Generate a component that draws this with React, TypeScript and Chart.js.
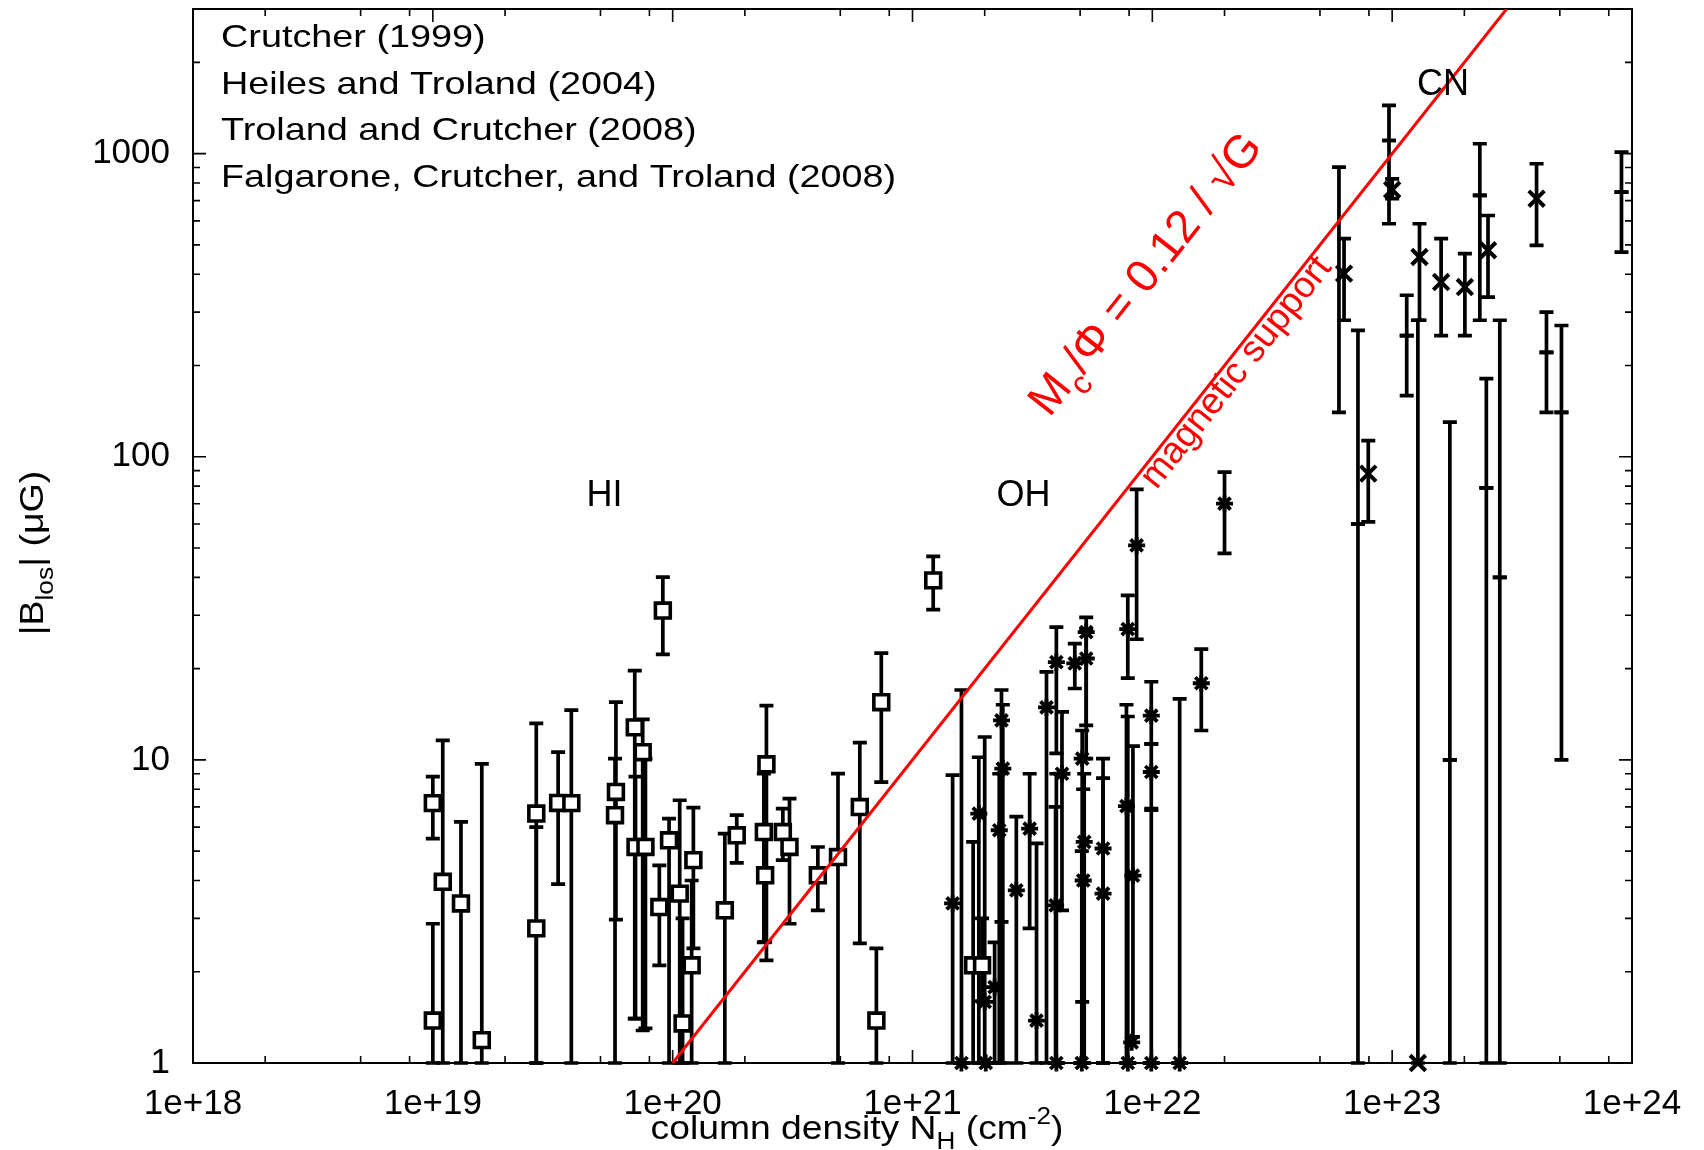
import { useEffect, useRef } from 'react';
import { Chart, registerables } from 'chart.js';

Chart.register(...registerables);

const FONT = '"Liberation Sans", Arial, Helvetica, sans-serif';

// ---------- HI Zeeman (squares) ----------
const hiN = [1.0e19, 1.0e19, 1.1e19, 1.31e19, 1.6e19, 2.7e19, 2.7e19, 3.33e19, 3.78e19, 5.8e19, 5.75e19, 6.95e19, 7.5e19, 7.0e19, 7.7e19, 9.1e19, 9.66e19, 8.8e19, 1.07e20, 1.1e20, 1.22e20, 1.2e20, 1.65e20, 1.85e20, 2.46e20, 2.4e20, 2.43e20, 2.88e20, 3.07e20, 4.03e20, 4.89e20, 6.03e20, 7.07e20, 7.41e20, 1.22e21, 1.79e21, 1.95e21];
const hiB = [7.2, 1.38, 3.96, 3.36, 1.19, 6.65, 2.78, 7.21, 7.2, 7.84, 6.57, 12.8, 10.6, 5.16, 5.16, 31.1, 5.43, 3.27, 3.62, 1.35, 4.67, 2.1, 3.19, 5.64, 9.67, 5.78, 4.16, 5.78, 5.16, 4.16, 4.78, 6.99, 1.38, 15.5, 39.1, 2.1, 2.1];
const hiLo = [5.5, 1, 1, 1, 1, 1, 1, 3.89, 1, 2.97, 1, 1.4, 1.28, 1.4, 1.3, 22.3, 1, 2.1, 1, 1, 2.39, 1, 1, 4.57, 2.18, 2.5, 2.51, 4.67, 2.88, 3.19, 1, 2.48, 1, 8.45, 31.3, 1, 1.6];
const hiHi = [8.8, 2.88, 11.6, 6.24, 9.7, 13.2, 6.0, 10.6, 14.6, 15.5, 10.1, 19.7, 13.6, 8.8, 10.1, 40.1, 6.4, 4.49, 7.36, 3.0, 6.96, 4.0, 5.71, 6.57, 15.1, 9.0, 6.0, 6.9, 7.45, 5.16, 9.01, 11.4, 2.39, 22.5, 46.9, 5.36, 3.0];

// ---------- OH Zeeman (stars) ----------
const ohN = [1.47e21, 1.6e21, 1.89e21, 2.0e21, 2.02e21, 2.2e21, 2.35e21, 2.38e21, 2.3e21, 2.71e21, 3.08e21, 3.29e21, 3.62e21, 3.98e21, 3.98e21, 3.95e21, 4.2e21, 4.75e21, 5.3e21, 5.3e21, 5.1e21, 5.2e21, 5.15e21, 5.08e21, 6.23e21, 6.23e21, 7.9e21, 8.6e21, 7.8e21, 7.9e21, 8.3e21, 8.2e21, 9.9e21, 9.9e21, 9.9e21, 1.3e22, 1.6e22, 2.0e22];
const ohB = [3.36, 1, 6.65, 1.59, 1, 1.78, 13.5, 9.36, 5.86, 3.71, 5.93, 1.38, 14.9, 21.0, 1, 3.31, 9.0, 20.8, 26.4, 21.6, 10.1, 5.36, 4.0, 1, 5.1, 3.62, 27, 51, 7.04, 1, 4.15, 1.17, 14.0, 9.12, 1, 1, 17.9, 70];
const ohLo = [1, 1, 1, 1, null, 1, 2.92, 1, 1, 1, 2.78, 1, 1, 10.5, 1, 1, 3.19, 17.2, 13.0, 10.1, 1.59, 1, 1, 1, 1, 1, 18.6, 25, 1, 1, 1.22, null, 11.3, 6.9, 1, 1, 12.5, 48];
const ohHi = [8.9, 17, 10.2, 11.9, null, 2.5, 17, 15.2, 9, 6.5, 9.0, 5.3, 19.5, 27.4, 9, 7, 14.4, 24.2, 29.5, 27, 12.5, 9, 8, 5, 10.1, 8.7, 34.9, 78, 15.2, 13.9, 11.1, null, 18.1, 11.3, 6.83, 15.9, 23.2, 89];

// ---------- CN Zeeman (crosses) ----------
const cnN = [6.0e22, 6.3e22, 7.2e22, 7.2e22, 7.95e22, 9.7e22, 9.7e22, 1.0e23, 1.15e23, 1.15e23, 1.3e23, 1.28e23, 1.6e23, 1.74e23, 1.74e23, 2.01e23, 2.32e23, 2.32e23, 2.51e23, 2.47e23, 2.47e23, 2.81e23, 2.81e23, 4.0e23, 4.4e23, 4.4e23, 5.08e23, 5.08e23, 9.04e23, 9.04e23];
const cnB = [null, 402, null, null, 88, null, null, 760, null, null, 456, 1, 377, null, null, 363, null, null, 480, null, null, null, null, 710, null, null, null, null, null, null];
const cnLo = [140, 282, 60, 1, 61, 1105, 587, 710, 159, 251, 282, 1, 251, 10, 1, 251, 282, 728, 336, 79, 1, 40, 1, 498, 140, 221, 140, 10, 473, 746];
const cnHi = [903, 524, 261, 60, 113, 1442, 1105, 826, 251, 341, 587, 282, 524, 130, 10, 468, 728, 1078, 625, 181, 79, 282, 40, 926, 221, 300, 271, 140, 746, 1011];

// ---------- magnetic support line: B = N / 1e20 ----------
const lineN = [1e20, 3e23];
const lineB = [1, 3000];

// ---------- axes ----------
const xMin = 1e18;
const xMax = 1e24;
const yMin = 1;
const yMax = 3000;
const xTickValues = [1e18, 1e19, 1e20, 1e21, 1e22, 1e23, 1e24];
const yTickValues = [1, 10, 100, 1000];
const xMinorMults = [2, 5, 8];
const yMinorMults = [2, 3, 4, 5, 6, 7, 8, 9];

// ---------- text ----------
const legendLines = ['Crutcher (1999)', 'Heiles and Troland (2004)', 'Troland and Crutcher (2008)', 'Falgarone, Crutcher, and Troland (2008)'];
const regionLabels = ['HI', 'OH', 'CN'];
const regionN = [5.2e19, 2.9e21, 1.63e23];
const regionB = [75.7, 75.7, 1723];

type Seg = { t: string; sub?: boolean; sup?: boolean };

const SERIES = [
  { n: hiN, lo: hiLo, hi: hiHi },
  { n: ohN, lo: ohLo, hi: ohHi },
  { n: cnN, lo: cnLo, hi: cnHi },
];

function drawRich(ctx: CanvasRenderingContext2D, segs: Seg[], x: number, y: number, angle: number, size: number, stretch: number, color: string, align: 'left' | 'center') {
  ctx.save();
  ctx.translate(x, y);
  ctx.rotate(angle);
  ctx.scale(stretch, 1);
  ctx.fillStyle = color;
  ctx.textBaseline = 'alphabetic';
  ctx.textAlign = 'left';
  const widths = segs.map((s) => {
    ctx.font = `${s.sub || s.sup ? size * 0.7 : size}px ${FONT}`;
    return ctx.measureText(s.t).width;
  });
  const total = widths.reduce((a, b) => a + b, 0);
  let cx = align === 'center' ? -total / 2 : 0;
  segs.forEach((s, i) => {
    ctx.font = `${s.sub || s.sup ? size * 0.7 : size}px ${FONT}`;
    const dy = s.sub ? size * 0.3 : s.sup ? -size * 0.45 : 0;
    ctx.fillText(s.t, cx, dy);
    cx += widths[i];
  });
  ctx.restore();
}

const zeroPad = (s: any) => {
  s.paddingTop = 0;
  s.paddingBottom = 0;
  s.paddingLeft = 0;
  s.paddingRight = 0;
};

const decorPlugin = {
  id: 'decor',
  beforeDatasetsDraw(chart: any) {
    const { ctx, chartArea: a, scales } = chart;
    const x = scales.x;
    const y = scales.y;
    ctx.save();
    ctx.lineCap = 'butt';
    // error bars
    ctx.strokeStyle = '#000';
    ctx.lineWidth = 3.7;
    const cap = 7;
    for (const s of SERIES) {
      for (let i = 0; i < s.n.length; i++) {
        const lo = s.lo[i];
        const hi = s.hi[i];
        if (lo == null || hi == null) continue;
        const px = x.getPixelForValue(s.n[i]);
        let y1 = y.getPixelForValue(lo);
        let y2 = y.getPixelForValue(hi);
        const capLo = y1 <= a.bottom + 0.5;
        const capHi = y2 >= a.top - 0.5;
        y1 = Math.min(y1, a.bottom);
        y2 = Math.max(y2, a.top);
        ctx.beginPath();
        ctx.moveTo(px, y1);
        ctx.lineTo(px, y2);
        if (capLo) {
          ctx.moveTo(px - cap, y1);
          ctx.lineTo(px + cap, y1);
        }
        if (capHi) {
          ctx.moveTo(px - cap, y2);
          ctx.lineTo(px + cap, y2);
        }
        ctx.stroke();
      }
    }
    // ticks on all four sides
    ctx.lineWidth = 1.6;
    const major = 13;
    const minor = 7;
    ctx.beginPath();
    for (let d = 18; d <= 24; d++) {
      const base = Math.pow(10, d);
      const px = x.getPixelForValue(base);
      ctx.moveTo(px, a.bottom); ctx.lineTo(px, a.bottom - major);
      ctx.moveTo(px, a.top); ctx.lineTo(px, a.top + major);
      if (d < 24) {
        for (const m of xMinorMults) {
          const pm = x.getPixelForValue(base * m);
          ctx.moveTo(pm, a.bottom); ctx.lineTo(pm, a.bottom - minor);
          ctx.moveTo(pm, a.top); ctx.lineTo(pm, a.top + minor);
        }
      }
    }
    for (let d = 0; d <= 3; d++) {
      const base = Math.pow(10, d);
      const py = y.getPixelForValue(base);
      ctx.moveTo(a.left, py); ctx.lineTo(a.left + major, py);
      ctx.moveTo(a.right, py); ctx.lineTo(a.right - major, py);
      for (const m of yMinorMults) {
        const v = base * m;
        if (v > yMax) break;
        const pm = y.getPixelForValue(v);
        ctx.moveTo(a.left, pm); ctx.lineTo(a.left + minor, pm);
        ctx.moveTo(a.right, pm); ctx.lineTo(a.right - minor, pm);
      }
    }
    ctx.stroke();
    ctx.lineWidth = 2;
    ctx.strokeRect(a.left, a.top, a.right - a.left, a.bottom - a.top);
    ctx.restore();
  },
  afterDraw(chart: any) {
    const { ctx, chartArea: a, scales } = chart;
    const x = scales.x;
    const y = scales.y;
    // legend text
    legendLines.forEach((t, i) => {
      drawRich(ctx, [{ t }], a.left + 28, a.top + 38 + i * 46.5, 0, 31.5, 1.2, '#000', 'left');
    });
    // region labels
    regionLabels.forEach((t, i) => {
      const px = x.getPixelForValue(regionN[i]);
      const py = y.getPixelForValue(regionB[i]);
      drawRich(ctx, [{ t }], px, py + 13, 0, 36, 1.0, '#000', 'center');
    });
    // line angle
    const p1x = x.getPixelForValue(lineN[0]);
    const p1y = y.getPixelForValue(lineB[0]);
    const p2x = x.getPixelForValue(lineN[1]);
    const p2y = y.getPixelForValue(lineB[1]);
    const ang = Math.atan2(p2y - p1y, p2x - p1x);
    drawRich(ctx, [{ t: 'M' }, { t: 'c', sub: true }, { t: '/\u03A6 = 0.12 / \u221AG' }],
      x.getPixelForValue(3.73e21), y.getPixelForValue(134), ang, 46, 1.0, '#ff0000', 'left');
    drawRich(ctx, [{ t: 'magnetic support' }],
      x.getPixelForValue(1.04e22), y.getPixelForValue(77.5), ang, 37, 1.0, '#ff0000', 'left');
    // axis titles
    drawRich(ctx, [{ t: 'column density N' }, { t: 'H', sub: true }, { t: ' (cm' }, { t: '-2', sup: true }, { t: ')' }],
      857, 1139, 0, 33, 1.13, '#000', 'center');
    drawRich(ctx, [{ t: '|B' }, { t: 'los', sub: true }, { t: '| (\u03BCG)' }],
      43, 553, -Math.PI / 2, 33, 1.14, '#000', 'center');
  },
};

export default function App() {
  const ref = useRef<HTMLCanvasElement>(null);
  useEffect(() => {
    const chart = new Chart(ref.current as HTMLCanvasElement, {
      type: 'scatter',
      data: {
        datasets: [
          {
            type: 'line',
            label: 'magnetic support',
            data: lineN.map((n, i) => ({ x: n, y: lineB[i] })),
            borderColor: '#ff0000',
            borderWidth: 3,
            pointRadius: 0,
            fill: false,
          } as any,
          {
            label: 'CN',
            data: cnN.map((n, i) => ({ x: n, y: cnB[i] })),
            pointStyle: 'crossRot',
            pointRadius: 11,
            pointBorderWidth: 4,
            pointBorderColor: '#000',
            pointBackgroundColor: '#000',
            clip: false,
          } as any,
          {
            label: 'OH',
            data: ohN.map((n, i) => ({ x: n, y: ohB[i] })),
            pointStyle: 'star',
            pointRadius: 8.5,
            pointBorderWidth: 3.8,
            pointBorderColor: '#000',
            pointBackgroundColor: '#000',
            clip: false,
          } as any,
          {
            label: 'HI',
            data: hiN.map((n, i) => ({ x: n, y: hiB[i] })),
            pointStyle: 'rect',
            pointRadius: 10.5,
            pointBorderWidth: 3.6,
            pointBorderColor: '#000',
            pointBackgroundColor: '#fff',
            clip: false,
          } as any,
        ],
      },
      options: {
        responsive: false,
        devicePixelRatio: 1,
        animation: false,
        events: [],
        layout: { autoPadding: false, padding: { top: 9, right: 72, left: 0, bottom: 0 } },
        plugins: { legend: { display: false }, title: { display: false }, tooltip: { enabled: false } },
        scales: {
          x: {
            type: 'logarithmic',
            position: 'bottom',
            min: xMin,
            max: xMax,
            grid: { display: false, drawTicks: false },
            border: { display: false },
            title: { display: false },
            ticks: {
              color: '#000',
              font: { family: FONT, size: 35 },
              padding: 20,
              maxRotation: 0,
              autoSkip: false,
              callback: (v: any) => '1e+' + Math.round(Math.log10(Number(v))),
            },
            afterBuildTicks: (s: any) => { s.ticks = xTickValues.map((v) => ({ value: v })); },
            afterFit: (s: any) => { s.height = 87; zeroPad(s); },
          },
          y: {
            type: 'logarithmic',
            position: 'left',
            min: yMin,
            max: yMax,
            grid: { display: false, drawTicks: false },
            border: { display: false },
            title: { display: false },
            ticks: {
              color: '#000',
              font: { family: FONT, size: 35 },
              padding: 23,
              autoSkip: false,
              callback: (v: any) => String(Math.round(Number(v))),
            },
            afterBuildTicks: (s: any) => { s.ticks = yTickValues.map((v) => ({ value: v })); },
            afterFit: (s: any) => { s.width = 193; zeroPad(s); },
          },
        },
      } as any,
      plugins: [decorPlugin],
    });
    return () => chart.destroy();
  }, []);
  return (
    <div style={{ position: 'absolute', left: 0, top: 0, width: 1704, height: 1150, background: '#fff' }}>
      <canvas ref={ref} width={1704} height={1150} style={{ display: 'block' }} />
    </div>
  );
}
